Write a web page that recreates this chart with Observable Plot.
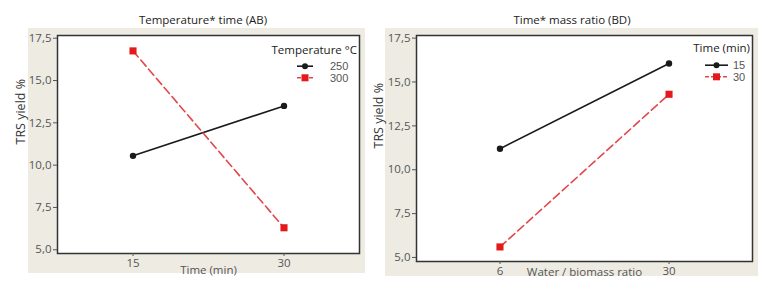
<!DOCTYPE html>
<html><head><meta charset="utf-8">
<script src="https://cdn.jsdelivr.net/npm/d3@7"></script>
<script src="https://cdn.jsdelivr.net/npm/@observablehq/plot@0.6"></script>
<style>
body{margin:0;background:#fff;}
#wrap{position:relative;width:763px;height:285px;overflow:hidden;font-family:"Open Sans",sans-serif;}
.bg{position:absolute;background:#eeebe3;}
.panel{position:absolute;top:0;}
.title{position:absolute;top:12px;font-size:11.5px;color:#222;white-space:nowrap;transform:translateX(-50%);}
#legend{position:absolute;left:0;top:0;pointer-events:none;}
</style></head>
<body>
<div id="wrap">
  <div class="bg" style="left:28px;top:28px;width:337px;height:245px"></div>
  <div class="bg" style="left:385px;top:28px;width:373px;height:248px"></div>
  <div class="title" style="left:203px">Temperature* time (AB)</div>
  <div class="title" style="left:572px">Time* mass ratio (BD)</div>
  <div id="left" class="panel" style="left:0"></div>
  <div id="right" class="panel" style="left:370px"></div>
</div>
<script>
// ---- data ----
const leftTimes = [15, 30];
const leftSeries = ["250", "300"];
const leftYield250 = [10.55, 13.5];
const leftYield300 = [16.75, 6.3];

const rightRatios = [6, 30];
const rightSeries = ["15", "30"];
const rightYield15 = [11.2, 16.05];
const rightYield30 = [5.6, 14.3];

const yTicks = [5, 7.5, 10, 12.5, 15, 17.5];
const yLabel = "TRS yield %";
const leftTitle = "Temperature °C";
const rightTitle = "Time (min)";

const BLACK = "#1a1a1a";
const RED_LINE = "#e2474b";
const RED = "#e3191c";

const comma = d => d.toFixed(1).replace(".", ",");

function rows(xs, ys) { return xs.map((x, i) => ({x, y: ys[i]})); }

function panel({width, marginLeft, marginRight, marginBottom, xDomain, xTicks, xLabel, yDomain, yLabelDx, labelOffsetX, s1, s2}) {
  return Plot.plot({
    width, height: 285,
    marginLeft, marginRight, marginTop: 35, marginBottom,
    style: {background: "transparent", fontFamily: "'Open Sans', sans-serif", fontSize: "11px", color: "#555", overflow: "visible"},
    x: {type: "linear", domain: xDomain},
    y: {domain: yDomain},
    marks: [
      Plot.frame({fill: "white"}),
      Plot.line(s1, {x: "x", y: "y", stroke: BLACK, strokeWidth: 1.6}),
      Plot.line(s2, {x: "x", y: "y", stroke: RED_LINE, strokeWidth: 1.6, strokeDasharray: "8,4"}),
      Plot.dot(s1, {x: "x", y: "y", r: 3.2, fill: BLACK, symbol: "circle"}),
      Plot.dot(s2, {x: "x", y: "y", r: 4, fill: RED, symbol: "square"}),
      Plot.frame({stroke: "#333", strokeWidth: 1.5}),
      Plot.axisX({ticks: xTicks, tickSize: 3, tickPadding: 2, tickFormat: d => String(d), label: xLabel, labelAnchor: "center", labelOffset: labelOffsetX, labelArrow: false, color: "#555", fontSize: 11.5}),
      Plot.axisY({ticks: yTicks, tickSize: 4, tickPadding: 2, tickFormat: comma, label: null, color: "#555", fontSize: 11.5}),
      Plot.text([yLabel], {frameAnchor: "left", rotate: -90, dx: yLabelDx, fontSize: 12.5, fill: "#333"})
    ]
  });
}

document.getElementById("left").append(panel({
  width: 370, marginLeft: 57, marginRight: 11, marginBottom: 32,
  xDomain: [7.5, 37.5], xTicks: leftTimes, xLabel: "Time (min)",
  yDomain: [4.78, 17.66], yLabelDx: -37, labelOffsetX: 20,
  s1: rows(leftTimes, leftYield250), s2: rows(leftTimes, leftYield300)
}));

document.getElementById("right").append(panel({
  width: 393, marginLeft: 46, marginRight: 11, marginBottom: 24,
  xDomain: [-5.85, 41.85], xTicks: rightRatios, xLabel: "Water / biomass ratio",
  yDomain: [4.77, 17.65], yLabelDx: -38, labelOffsetX: 14,
  s1: rows(rightRatios, rightYield15), s2: rows(rightRatios, rightYield30)
}));

// ---- legends ----
const svg = d3.select("#wrap").append("svg").attr("id", "legend").attr("width", 763).attr("height", 285)
  .style("font-family", "'Open Sans', sans-serif");

function legend(title, names, tx, ty, x0, x1, lx, yc) {
  svg.append("text").attr("x", tx).attr("y", ty).attr("text-anchor", "end").attr("dy", "0.35em")
    .attr("font-size", 11.5).attr("fill", "#222").text(title);
  const step = 11.6;
  names.forEach((n, i) => {
    const y = yc + (i - 0.5) * step;
    const red = i === 1;
    svg.append("line").attr("x1", x0).attr("x2", x1).attr("y1", y).attr("y2", y)
      .attr("stroke", red ? RED_LINE : BLACK).attr("stroke-width", 1.6)
      .attr("stroke-dasharray", red ? "4,2" : null);
    const cx = (x0 + x1) / 2;
    if (red) svg.append("rect").attr("x", cx - 3.5).attr("y", y - 3.5).attr("width", 7).attr("height", 7).attr("fill", RED);
    else svg.append("circle").attr("cx", cx).attr("cy", y).attr("r", 3).attr("fill", BLACK);
    svg.append("text").attr("x", lx).attr("y", y).attr("dy", "0.35em")
      .attr("font-family", "'Liberation Sans', Arial, sans-serif")
      .attr("font-size", 11).attr("fill", "#555").text(n);
  });
}
legend(leftTitle, leftSeries, 357, 50, 297, 313, 330, 72);
legend(rightTitle, rightSeries, 750, 48, 705, 728, 733, 71);
</script>
</body></html>
